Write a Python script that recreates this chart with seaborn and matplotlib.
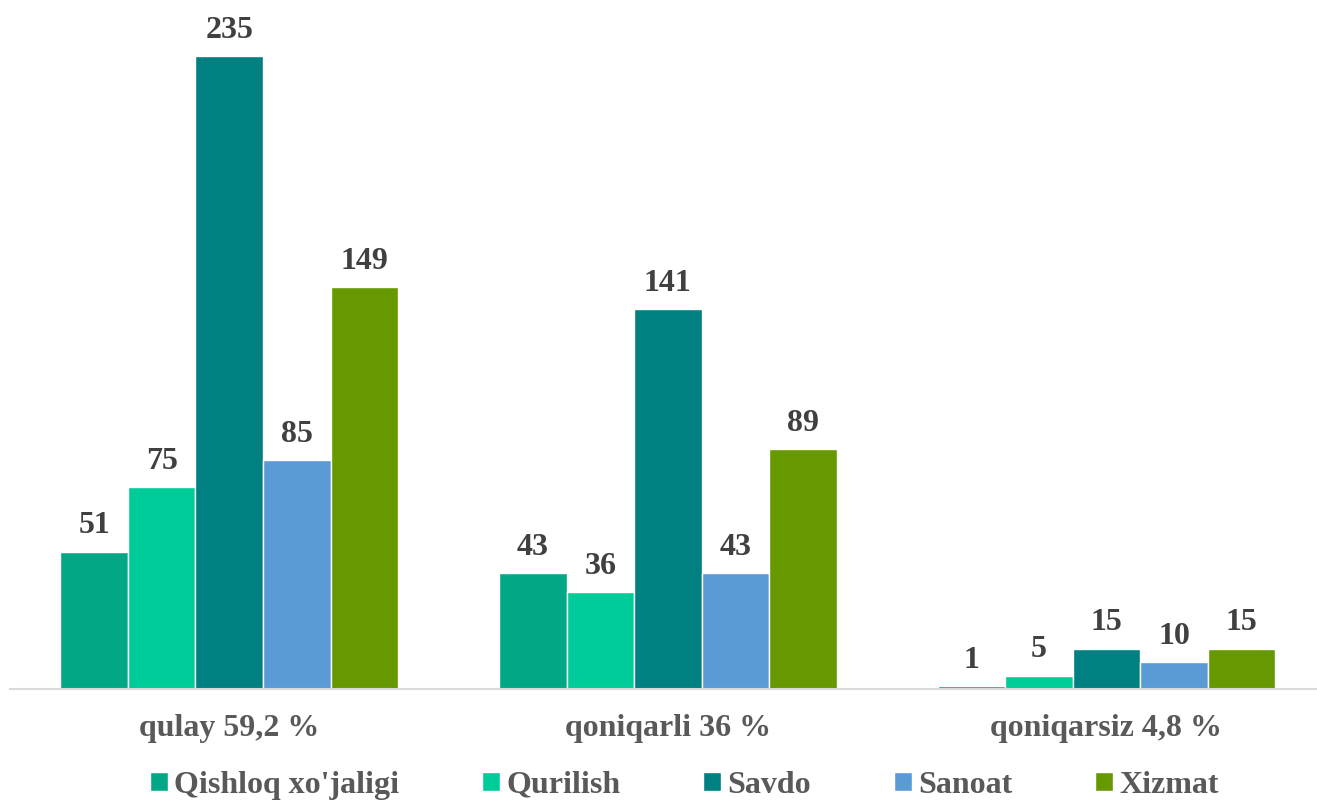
import pandas as pd
import matplotlib.pyplot as plt
import seaborn as sns

categories = ['qulay 59,2 %', 'qoniqarli 36 %', 'qoniqarsiz 4,8 %']
sectors = ["Qishloq xo'jaligi", 'Qurilish', 'Savdo', 'Sanoat', 'Xizmat']
values = {
    "Qishloq xo'jaligi": [51, 43, 1],
    'Qurilish': [75, 36, 5],
    'Savdo': [235, 141, 15],
    'Sanoat': [85, 43, 10],
    'Xizmat': [149, 89, 15],
}
colors = ['#02A886', '#00CC99', '#008080', '#5B9BD5', '#669900']

rows = []
for s in sectors:
    for c, v in zip(categories, values[s]):
        rows.append({'Category': c, 'Sector': s, 'Value': v})
df = pd.DataFrame(rows)

sns.set_style("white")
plt.rcParams['font.family'] = ['Liberation Serif', 'DejaVu Serif']
plt.rcParams['font.weight'] = 'bold'

fig = plt.figure(figsize=(13.17, 8.05), dpi=100)
ax = fig.add_axes([0.0075, 0.1441, 0.9925, 0.837])

sns.barplot(data=df, x='Category', y='Value', hue='Sector',
            order=categories, hue_order=sectors, palette=colors,
            width=0.77, gap=0, saturation=1, ax=ax, legend=True)

for cont in ax.containers:
    ax.bar_label(cont, padding=8, fontsize=23, fontweight='bold', color='#404040')

ax.set_xlim(-0.5, 2.48)
ax.set_ylim(0, 250)
ax.set_xlabel('')
ax.set_ylabel('')
ax.set_yticks([])
for side in ['top', 'right', 'left']:
    ax.spines[side].set_visible(False)
ax.spines['bottom'].set_color('#D9D9D9')
ax.spines['bottom'].set_linewidth(1.5)
ax.tick_params(axis='x', length=0, pad=18, labelsize=23, labelcolor='#595959')
for lab in ax.get_xticklabels():
    lab.set_fontweight('bold')

handles, labels = ax.get_legend_handles_labels()
ax.legend(handles, labels, loc='upper center', bbox_to_anchor=(0.516, -0.112),
          ncol=5, frameon=False, fontsize=23, handlelength=0.55, handleheight=0.55,
          handletextpad=0.2, columnspacing=2.6, labelcolor='#595959',
          borderaxespad=0, borderpad=0.2)
for t in ax.get_legend().get_texts():
    t.set_fontweight('bold')

fig.savefig('out.png', dpi=100)
